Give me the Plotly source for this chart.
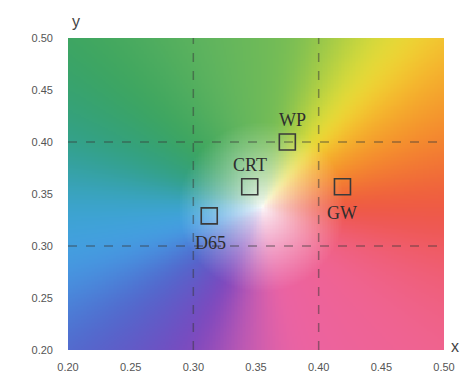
import numpy as np
import plotly.graph_objects as go

# Chromaticity points (x, y) and labels
labels = ["WP", "CRT", "D65", "GW"]
cx = [0.375, 0.345, 0.3127, 0.419]
cy = [0.400, 0.357, 0.3290, 0.357]

x_ticks = [0.20, 0.25, 0.30, 0.35, 0.40, 0.45, 0.50]
y_ticks = [0.20, 0.25, 0.30, 0.35, 0.40, 0.45, 0.50]
guide_x = [0.30, 0.40]
guide_y = [0.30, 0.40]

# background colour field: hue by direction around the white point
white_xy = (0.355, 0.337)
hue_angles = [0, 23, 40, 50, 62, 78, 110, 140, 162, 180, 195, 215, 244, 262, 280, 322, 340, 360]
hue_colors = [(238, 85, 65), (245, 140, 45), (245, 185, 45), (242, 228, 55), (185, 210, 65),
              (120, 190, 85), (95, 180, 95), (60, 165, 95), (50, 160, 135), (60, 165, 210),
              (70, 160, 230), (80, 105, 205), (125, 70, 190), (190, 90, 180), (235, 100, 165),
              (240, 100, 145), (240, 95, 120), (238, 85, 65)]

# style
label_shift = {"WP": (5, 22), "CRT": (0, 22), "D65": (1, -27), "GW": (0, -26)}
px_per_x, px_per_y = 1283.0, 1040.0
sat_radius = 85.0
smooth_deg = 6.0

# smoothed circular hue lookup (one entry per degree)
cols = np.array(hue_colors, dtype=float)
deg = np.arange(360)
lut = np.stack([np.interp(deg, hue_angles, cols[:, c]) for c in range(3)], axis=-1)
kk = np.arange(-30, 31)
kern = np.exp(-0.5 * (kk / smooth_deg) ** 2)
kern /= kern.sum()
lut_s = np.zeros_like(lut)
for c in range(3):
    ext = np.concatenate([lut[-30:, c], lut[:, c], lut[:30, c]])
    lut_s[:, c] = np.convolve(ext, kern, mode="valid")
lut_s = np.vstack([lut_s, lut_s[:1]])

N = 240
xs = np.linspace(0.2, 0.5, N)
ys = np.linspace(0.2, 0.5, N)
X, Y = np.meshgrid(xs, ys)
dxp = (X - white_xy[0]) * px_per_x
dyp = (Y - white_xy[1]) * px_per_y
ang = np.degrees(np.arctan2(dyp, dxp)) % 360
rad = np.hypot(dxp, dyp)
s = np.clip(rad / sat_radius, 0, 1) ** 0.75
img = np.zeros((N, N, 3))
for c in range(3):
    base = np.interp(ang, np.arange(361), lut_s[:, c])
    img[..., c] = 252 * (1 - s) + base * s
img = np.clip(img, 0, 255).astype(np.uint8)

step = 0.3 / (N - 1)
fig = go.Figure()
fig.add_trace(go.Image(z=img, x0=0.2, dx=step, y0=0.2, dy=step, hoverinfo="skip"))

gl = dict(color="rgba(55,55,55,0.5)", width=1.5, dash="dash")
for gx in guide_x:
    fig.add_shape(type="line", x0=gx, x1=gx, y0=0.2, y1=0.5, xref="x", yref="y", line=gl, layer="above")
for gy in guide_y:
    fig.add_shape(type="line", x0=0.2, x1=0.5, y0=gy, y1=gy, xref="x", yref="y", line=gl, layer="above")

fig.add_trace(go.Scatter(
    x=cx, y=cy, mode="markers",
    marker=dict(symbol="square-open", size=16, color="#3a3a3a", line=dict(width=1.6, color="#3a3a3a")),
    showlegend=False, hoverinfo="skip"))
for lab, x, y in zip(labels, cx, cy):
    sx, sy = label_shift[lab]
    fig.add_annotation(x=x, y=y, xref="x", yref="y", text=lab, showarrow=False,
                       xshift=sx, yshift=sy,
                       font=dict(family="Liberation Serif", size=18, color="#2e2e2e"))

tf = dict(family="Liberation Sans", size=11, color="#555")
fig.update_xaxes(range=[0.2, 0.5], tickvals=x_ticks, ticktext=[f"{v:.2f}" for v in x_ticks],
                 showgrid=False, zeroline=False, showline=False, ticks="",
                 ticklabelstandoff=9, tickfont=tf)
fig.update_yaxes(range=[0.2, 0.5], tickvals=y_ticks, ticktext=[f"{v:.2f}" for v in y_ticks],
                 showgrid=False, zeroline=False, showline=False, ticks="", autorange=False,
                 scaleanchor=False, ticklabelstandoff=14, tickfont=tf)

fig.add_annotation(x=0.2, y=0.5, xref="x", yref="y", text="y", showarrow=False,
                   xanchor="center", yanchor="bottom", xshift=8, yshift=6,
                   font=dict(family="Liberation Sans", size=16, color="#444"))
fig.add_annotation(x=0.5, y=0.2, xref="x", yref="y", text="x", showarrow=False,
                   xanchor="left", yanchor="middle", xshift=5, yshift=4,
                   font=dict(family="Liberation Sans", size=16, color="#444"))

fig.update_layout(width=467, height=385, margin=dict(l=68, r=14, t=38, b=35),
                  paper_bgcolor="white", plot_bgcolor="white")
fig.write_html("out.html")
